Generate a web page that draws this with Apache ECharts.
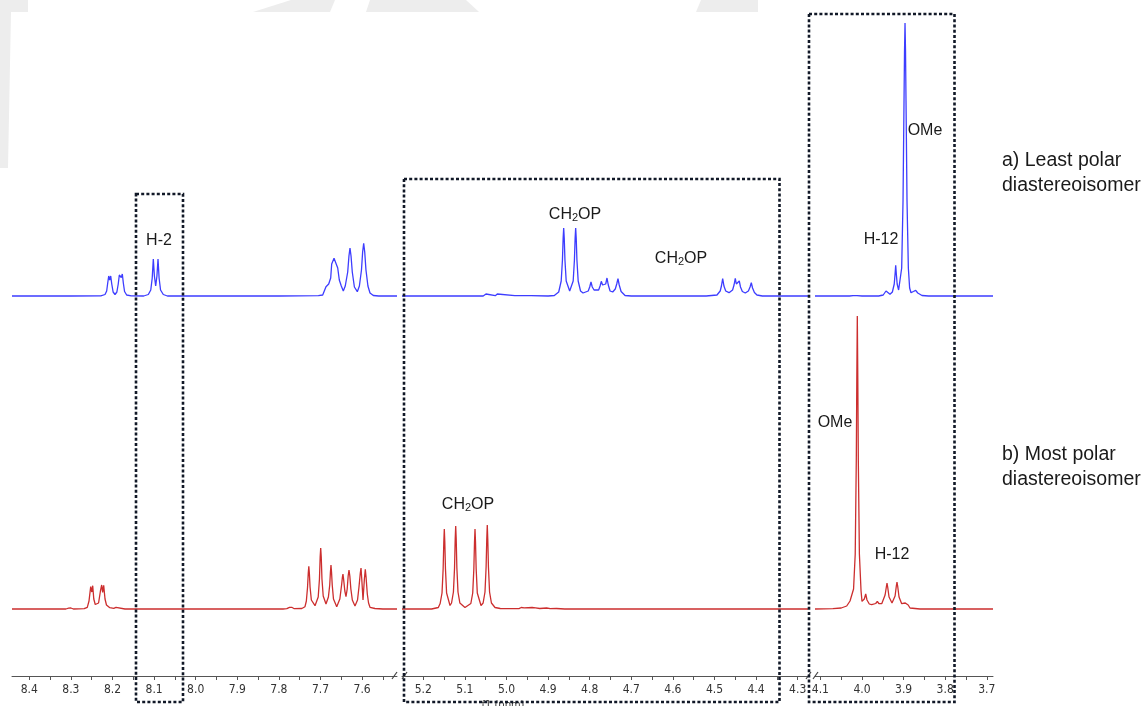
<!DOCTYPE html>
<html><head><meta charset="utf-8">
<script src="https://cdn.jsdelivr.net/npm/echarts@6/dist/echarts.min.js"></script>
<style>html,body{margin:0;padding:0;background:#fff}#c{width:1146px;height:706px}</style>
</head><body><div id="c"></div>
<script>
// ppm ranges of the three broken-axis segments [min, max]
const segAromatic = [7.5161, 8.4416];
const segMid = [4.2752, 5.2512];
const segHigh = [3.6851, 4.1130];

// tick labels and tick marks
const labelsAromatic = [8.4, 8.3, 8.2, 8.1, 8.0, 7.9, 7.8, 7.7, 7.6];
const labelsMid = [5.2, 5.1, 5.0, 4.9, 4.8, 4.7, 4.6, 4.5, 4.4, 4.3];
const labelsHigh = [4.1, 4.0, 3.9, 3.8, 3.7];
const ticksAromatic = [8.4, 8.35, 8.3, 8.25, 8.2, 8.15, 8.1, 8.05, 8.0, 7.95, 7.9, 7.85, 7.8, 7.75, 7.7, 7.65, 7.6, 7.55];
const ticksMid = [5.2, 5.15, 5.1, 5.05, 5.0, 4.95, 4.9, 4.85, 4.8, 4.75, 4.7, 4.65, 4.6, 4.55, 4.5, 4.45, 4.4, 4.35, 4.3];
const ticksHigh = [4.1, 4.05, 4.0, 3.95, 3.9, 3.85, 3.8, 3.75, 3.7];

// a) least polar diastereoisomer (blue) : [ppm, intensity]
const blueAromatic = [
[8.4416,0],[8.30,0],[8.228,0.2],[8.218,1.5],[8.214,5],[8.2115,13],[8.2091,20],[8.2067,16],[8.2043,20],[8.2018,12],[8.1985,4],[8.194,1.5],[8.1895,4],[8.1862,12],[8.1836,21],[8.1813,23],[8.1789,18.5],[8.1764,22],[8.174,13],[8.171,4.5],[8.166,1],[8.155,0.2],
[8.125,0],[8.1139,1.5],[8.108,6],[8.1045,18],[8.1019,37],[8.0993,20],[8.0962,10],[8.0932,20],[8.0906,37],[8.088,18],[8.0845,6],[8.0779,1.5],[8.068,0],
[7.80,0],[7.705,0.3],[7.6947,1],[7.6868,9.3],[7.6837,8.7],[7.6803,12],[7.6755,18],[7.6731,32],[7.6675,37.7],[7.6627,36],[7.6586,28],[7.6548,16],[7.65,10],[7.6452,5],[7.6405,10],[7.6346,24],[7.6316,40],[7.6291,48],[7.6266,40],[7.6236,24],[7.6185,9],[7.6115,4.3],[7.6065,10],[7.6015,26],[7.5987,44],[7.5962,52.7],[7.5937,44],[7.5907,26],[7.586,10],[7.581,3],[7.573,0.5],[7.56,0],[7.5161,0]
];
const blueMid = [
[5.2512,0],[5.056,0],[5.053,0.5],[5.0493,2],[5.0455,0.5],[5.027,0.3],[5.0221,2],[5.018,0.3],[4.98,0.3],[4.9755,2],[4.971,0.3],[4.95,0.3],[4.9452,2.3],[4.941,0.3],[4.90,0],
[4.885,0.5],[4.8745,4],[4.8685,15],[4.8655,36],[4.8638,58],[4.8625,68],[4.8612,58],[4.8595,36],[4.8565,15],[4.8481,5],[4.8397,15],[4.8367,36],[4.835,58],[4.8337,68],[4.8324,58],[4.8307,36],[4.8277,15],[4.822,5],[4.816,3],
[4.8035,5],[4.8,9],[4.7969,14],[4.7938,9],[4.7895,6],[4.7849,5],[4.7785,6],[4.775,10],[4.7721,14.7],[4.769,11],[4.7656,9.5],[4.7615,12],[4.7584,18],[4.7553,11],[4.751,5],[4.7447,4],[4.7385,7],[4.735,12],[4.732,17.3],[4.729,11],[4.7245,4.5],[4.715,0.5],[4.70,0],
[4.52,0],[4.494,1],[4.4863,5],[4.4833,10],[4.4803,17.3],[4.4773,10],[4.473,5],[4.4651,3.3],[4.4565,6],[4.453,11],[4.45,17.7],[4.4475,12],[4.4452,10],[4.443,11],[4.4404,15],[4.4375,9],[4.433,4.5],[4.426,3],[4.4185,5],[4.4145,9],[4.4115,13.3],[4.4085,8],[4.404,3.5],[4.3979,1],[4.385,0],[4.2752,0]
];
const blueHigh = [
[4.113,0],[4.03,0],[4.0215,0.4],[4.0168,2],[4.012,0.4],[4.0,0],[3.96,0],[3.949,1],[3.9455,3],[3.9423,5],[3.939,3],[3.9327,1.7],[3.927,4],[3.9225,12],[3.9205,22],[3.919,30.7],[3.9175,22],[3.9155,12],[3.912,6],[3.9087,5],[3.9046,28],[3.9014,95],[3.899,195],[3.8978,245],[3.8966,273],[3.8954,245],[3.8942,195],[3.8918,95],[3.8886,28],[3.8855,8],[3.8822,3.3],[3.8765,4.5],[3.8709,5.7],[3.866,3],[3.8558,0.5],[3.84,0],[3.6851,0]
];

// b) most polar diastereoisomer (red) : [ppm, intensity]
const redAromatic = [
[8.4416,0],[8.312,0],[8.3055,0.8],[8.30,1],[8.294,0],[8.268,0.3],[8.2606,1.7],[8.2565,8],[8.2524,22.3],[8.2498,17],[8.2476,23.3],[8.245,10],[8.2415,4.5],[8.238,3.3],[8.2335,6],[8.229,18],[8.226,24],[8.2236,16.7],[8.2212,23.7],[8.218,10],[8.2145,4],[8.2115,2.3],[8.2065,1.3],[8.2019,1.7],[8.197,0.7],[8.1916,1.7],[8.187,0.3],[8.17,0],
[7.79,0],[7.781,0.3],[7.7745,1.7],[7.7715,1.2],[7.7692,1.7],[7.763,0.3],[7.745,0.5],[7.7373,2.3],[7.734,8],[7.7311,22],[7.7294,36],[7.7281,42.6],[7.7268,36],[7.7251,22],[7.722,9],[7.7132,3.3],[7.7055,12],[7.7025,30],[7.7008,52],[7.6995,61],[7.6982,52],[7.6965,30],[7.6935,13],[7.6868,5],[7.681,12],[7.6778,24],[7.6761,37],[7.6748,44],[7.6735,37],[7.6718,24],[7.6688,10],[7.661,2.3],[7.6535,10],[7.649,25],[7.6473,32],[7.646,35],[7.6445,30],[7.6415,18],[7.6387,12.3],[7.6358,20],[7.6335,33],[7.6315,39],[7.6295,33],[7.627,20],[7.6235,9],[7.6171,3],[7.611,9],[7.6075,22],[7.6043,36],[7.6026,41],[7.6008,30],[7.5978,9],[7.5945,30],[7.5923,39.6],[7.5905,32],[7.5875,15],[7.5845,6],[7.581,1.7],[7.569,0.5],[7.55,0],[7.5161,0]
];
const redMid = [
[5.2512,0],[5.18,0],[5.1639,1.5],[5.1595,5.5],[5.155,16],[5.1523,40],[5.1507,67],[5.1495,80],[5.1483,67],[5.1467,40],[5.144,16],[5.1358,3.5],[5.1321,6],[5.1276,17],[5.1249,41],[5.1233,70],[5.1221,83],[5.1209,70],[5.1193,41],[5.1166,17],[5.1121,6],[5.0998,1.5],
[5.0857,5.5],[5.0812,16],[5.0785,40],[5.0769,67],[5.0757,80],[5.0745,67],[5.0729,40],[5.0702,16],[5.0613,3.5],[5.0562,6],[5.0517,17],[5.049,42],[5.0474,70],[5.0462,84],[5.045,70],[5.0434,42],[5.0407,17],[5.0362,6],[5.0276,1.5],[5.015,0.5],
[4.97,0.3],[4.9645,1.5],[4.961,3],[4.9575,1.2],[4.9385,1.5],[4.9339,3.5],[4.93,1.2],[4.92,0.5],[4.9034,1],[4.895,0.3],[4.88,0.5],[4.86,0],[4.2752,0]
];
const redHigh = [
[4.113,0],[4.07,0.3],[4.05,1],[4.0368,3],[4.0288,8],[4.0203,20],[4.0163,55],[4.0137,150],[4.0125,230],[4.0113,293],[4.0101,230],[4.0089,150],[4.0063,55],[4.0023,18],[4.0,7.6],[3.9945,10],[3.9911,15],[3.988,9],[3.9825,5],[3.9767,4.3],[3.967,5.5],[3.9632,7.6],[3.9595,5.5],[3.9526,5.3],[3.9445,14],[3.9415,22],[3.9399,26],[3.9383,22],[3.935,12],[3.9279,6],[3.9205,13],[3.9175,23],[3.9159,27],[3.9143,23],[3.911,12],[3.9046,5.3],[3.896,6],[3.8925,7.6],[3.889,4],[3.8846,1],[3.8606,0],[3.6851,0]
];

const BLUE = '#3d3dff';
const RED = '#cc2e2e';
const AXIS = '#555';
const segs = [
  {range: segAromatic, labels: labelsAromatic, ticks: ticksAromatic, left: 12, width: 385},
  {range: segMid, labels: labelsMid, ticks: ticksMid, left: 402, width: 406},
  {range: segHigh, labels: labelsHigh, ticks: ticksHigh, left: 815, width: 178}
];
const blueData = [blueAromatic, blueMid, blueHigh];
const redData = [redAromatic, redMid, redHigh];

const grid = [], xAxis = [], yAxis = [], series = [];
segs.forEach((s, i) => {
  grid.push({left: s.left, top: 0, width: s.width, height: 306});
  xAxis.push({type: 'value', gridIndex: i, inverse: true, min: s.range[0], max: s.range[1], show: false});
  yAxis.push({type: 'value', gridIndex: i, min: -10, max: 296, show: false});
});
segs.forEach((s, i) => {
  grid.push({left: s.left, top: 309, width: s.width, height: 367});
  xAxis.push({
    type: 'value', gridIndex: 3 + i, inverse: true, min: s.range[0], max: s.range[1],
    axisLine: {show: true, onZero: false, lineStyle: {color: AXIS, width: 1}},
    axisTick: {show: true, customValues: s.ticks, length: 4, lineStyle: {color: AXIS}},
    axisLabel: {show: true, customValues: s.labels, margin: 8, color: '#333', fontSize: 12,
      fontFamily: 'DejaVu Sans Condensed, DejaVu Sans', formatter: v => v.toFixed(1)},
    splitLine: {show: false}
  });
  yAxis.push({type: 'value', gridIndex: 3 + i, min: -67, max: 300, show: false});
});
for (let i = 0; i < 3; i++) {
  series.push({type: 'line', xAxisIndex: i, yAxisIndex: i, data: blueData[i], showSymbol: false,
    lineStyle: {color: BLUE, width: 1.3}, itemStyle: {color: BLUE}, z: 3});
  series.push({type: 'line', xAxisIndex: 3 + i, yAxisIndex: 3 + i, data: redData[i], showSymbol: false,
    lineStyle: {color: RED, width: 1.3}, itemStyle: {color: RED}, z: 3});
}

const TXT = '#1a1a1a';
const FF = 'Liberation Sans, Arial, sans-serif';
function label(text, x, y, size) {
  return {type: 'text', x: x, y: y, z: 50, style: {text: text, fill: TXT, fontSize: size || 16, fontFamily: FF,
    align: 'center', verticalAlign: 'middle', textAlign: 'center', textVerticalAlign: 'middle'}};
}
function chLabel(x, y) {
  return {type: 'text', x: x, y: y, z: 50, style: {
    text: '{n|CH}{s|2}{n|OP}', fill: TXT, fontFamily: FF,
    align: 'center', verticalAlign: 'middle', textAlign: 'center', textVerticalAlign: 'middle',
    rich: {n: {fontSize: 16, fontFamily: FF, fill: TXT, lineHeight: 22, verticalAlign: 'bottom'},
           s: {fontSize: 11, fontFamily: FF, fill: TXT, lineHeight: 11, verticalAlign: 'bottom'}}}};
}
function sideText(text, x, y) {
  return {type: 'text', x: x, y: y, z: 50, style: {text: text, fill: TXT, fontSize: 19.5, fontFamily: FF,
    align: 'left', verticalAlign: 'middle', textAlign: 'left', textVerticalAlign: 'middle'}};
}
function box(x, y, w, h) {
  return {type: 'rect', z: 100, shape: {x: x, y: y, width: w, height: h},
    style: {fill: 'none', stroke: '#111827', lineWidth: 2.6, lineDash: [3, 2.2]}};
}
function slash(x1, y1, x2, y2) {
  return {type: 'line', z: 60, shape: {x1: x1, y1: y1, x2: x2, y2: y2}, style: {stroke: '#444', lineWidth: 1.2}};
}
function wm(points) {
  return {type: 'polygon', z: -10, shape: {points: points}, style: {fill: '#ededed'}};
}

const graphic = [
  wm([[0,0],[28,0],[28,12],[11,12],[8,168],[0,168]]),
  wm([[291,0],[335,0],[330,12],[253,12]]),
  wm([[370,0],[466,0],[479,12],[366,12]]),
  wm([[701,0],[758,0],[758,12],[696,12]]),
  label('H-2', 159, 241),
  chLabel(575, 212),
  chLabel(681, 256),
  label('H-12', 881, 240),
  label('OMe', 925, 131),
  chLabel(468, 502),
  label('OMe', 835, 423),
  label('H-12', 892, 555),
  sideText('a) Least polar', 1002, 161),
  sideText('diastereoisomer', 1002, 186),
  sideText('b) Most polar', 1002, 455),
  sideText('diastereoisomer', 1002, 480),
  {type: 'text', x: 503, y: 700, z: 40, style: {text: 'f1 (ppm)', fill: '#333', fontSize: 11,
    fontFamily: 'DejaVu Sans Condensed, DejaVu Sans', align: 'center', verticalAlign: 'top', textAlign: 'center', textVerticalAlign: 'top'}},
  slash(392, 679, 397, 672), slash(402, 679, 407, 672),
  slash(806, 679, 811, 672), slash(813, 679, 818, 672),
  box(136, 194, 47, 508),
  box(404, 179, 375.5, 523),
  box(809, 14, 145.5, 688)
];

const chart = echarts.init(document.getElementById('c'), null, {renderer: 'canvas'});
chart.setOption({
  animation: false,
  backgroundColor: '#fff',
  grid: grid, xAxis: xAxis, yAxis: yAxis, series: series, graphic: graphic
});
</script></body></html>
